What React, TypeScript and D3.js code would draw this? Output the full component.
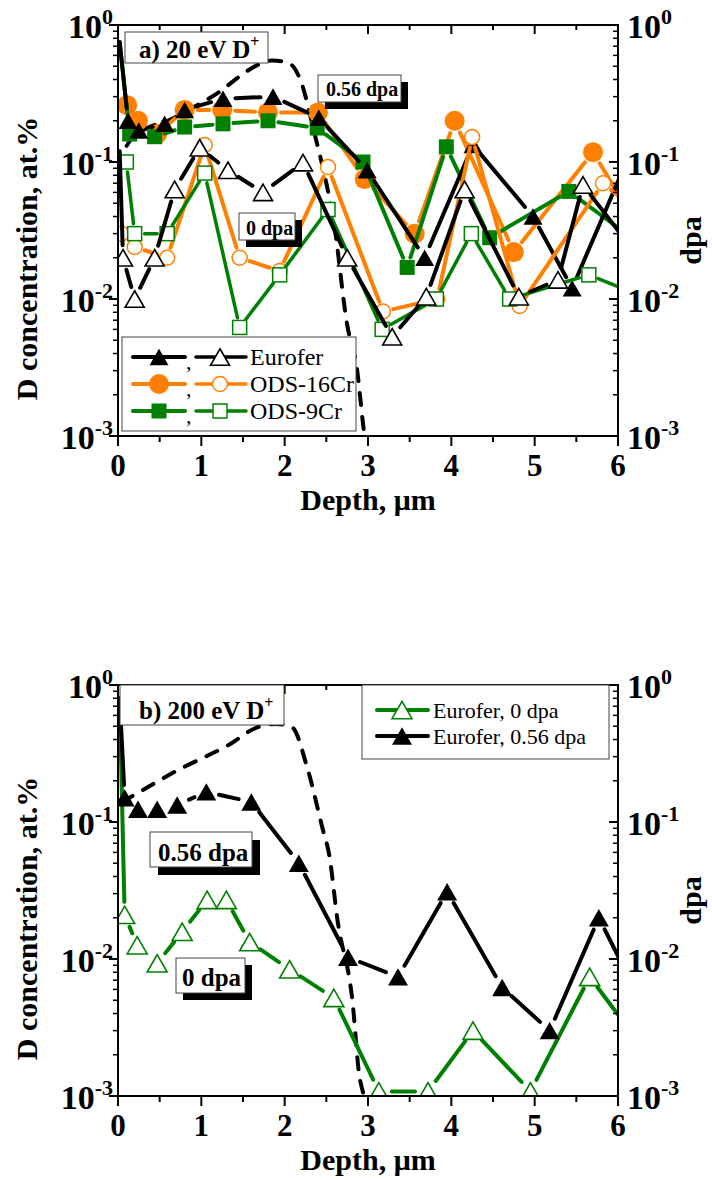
import React from "react";
import * as d3 from "d3";

const FONT = '"Liberation Serif", "Times New Roman", Times, serif';
const ORANGE = "#ff8000";
const GREEN = "#008000";
const BLACK = "#000000";

// ---------- axes ----------
const depthDomain = [0, 6];
const depthTickValues = [0, 1, 2, 3, 4, 5, 6];
const depthMinorValues = [0.5, 1.5, 2.5, 3.5, 4.5, 5.5];
const concDomain = [1e-3, 1];
const decadeValues = [1, 0.1, 0.01, 0.001];
const decadeExponents = ["0", "-1", "-2", "-3"];

// ---------- panel a) 20 eV D+ ----------
const aEur056X = [0.02, 0.12, 0.25, 0.56, 0.8, 1.26, 1.86, 2.41, 2.99, 3.68, 4.26, 4.98, 5.45, 6.1];
const aEur056Y = [0.75, 0.2, 0.17, 0.19, 0.24, 0.29, 0.3, 0.21, 0.087, 0.02, 0.133, 0.04, 0.012, 0.1];
const aOds16_056X = [0.11, 0.24, 0.47, 0.8, 1.25, 1.8, 2.4, 2.96, 3.56, 4.04, 4.75, 5.7, 6.2];
const aOds16_056Y = [0.26, 0.2, 0.16, 0.24, 0.24, 0.23, 0.23, 0.075, 0.03, 0.2, 0.022, 0.118, 0.037];
const aOds9_056X = [0.02, 0.14, 0.44, 0.8, 1.26, 1.8, 2.39, 2.94, 3.47, 3.94, 4.46, 5.41, 6.2];
const aOds9_056Y = [0.75, 0.16, 0.153, 0.18, 0.19, 0.2, 0.177, 0.1, 0.017, 0.129, 0.028, 0.061, 0.027];
const aEur0X = [0.02, 0.06, 0.2, 0.44, 0.68, 0.98, 1.32, 1.74, 2.22, 2.75, 3.29, 3.7, 4.16, 4.81, 5.28, 5.58, 6.2];
const aEur0Y = [0.12, 0.02, 0.01, 0.02, 0.063, 0.127, 0.087, 0.06, 0.099, 0.02, 0.0053, 0.0104, 0.063, 0.0104, 0.0138, 0.068, 0.022];
const aOds16_0X = [0.04, 0.2, 0.59, 1.04, 1.46, 1.94, 2.52, 3.18, 3.83, 4.25, 4.82, 5.82, 6.2];
const aOds16_0Y = [0.03, 0.024, 0.02, 0.133, 0.02, 0.016, 0.092, 0.0081, 0.01, 0.152, 0.0089, 0.07, 0.045];
const aOds9_0X = [0.1, 0.2, 0.59, 1.04, 1.46, 1.94, 2.52, 3.17, 3.82, 4.24, 4.7, 5.65, 6.2];
const aOds9_0Y = [0.1, 0.03, 0.03, 0.083, 0.0062, 0.015, 0.045, 0.006, 0.01, 0.03, 0.01, 0.015, 0.011];
const aDpaX = [0, 0.1, 0.3, 0.6, 0.9, 1.2, 1.5, 1.67, 1.85, 2.0, 2.1, 2.2, 2.36, 2.5, 2.58, 2.75, 2.87, 2.95, 3.0];
const aDpaY = [0.09, 0.13, 0.17, 0.2, 0.25, 0.32, 0.44, 0.51, 0.55, 0.54, 0.5, 0.38, 0.16, 0.07, 0.04, 0.0065, 0.003, 0.0011, 0.0007];

// ---------- panel b) 200 eV D+ ----------
const bEur056X = [0.02, 0.08, 0.24, 0.47, 0.71, 1.06, 1.6, 2.17, 2.76, 3.36, 3.95, 4.61, 5.18, 5.77, 6.2];
const bEur056Y = [0.8, 0.15, 0.124, 0.124, 0.133, 0.166, 0.14, 0.05, 0.0103, 0.0074, 0.031, 0.0062, 0.003, 0.02, 0.006];
const bEur0X = [0.02, 0.08, 0.23, 0.47, 0.77, 1.07, 1.3, 1.58, 2.06, 2.59, 3.13, 3.72, 4.26, 4.95, 5.66, 6.2];
const bEur0Y = [0.8, 0.021, 0.0126, 0.0093, 0.0158, 0.027, 0.027, 0.0133, 0.0084, 0.0052, 0.00108, 0.00108, 0.003, 0.00108, 0.0074, 0.0027];
const bDpaX = [0.05, 0.36, 0.78, 1.0, 1.31, 1.67, 1.9, 2.09, 2.27, 2.45, 2.54, 2.63, 2.82, 2.89, 2.95, 3.0];
const bDpaY = [0.14, 0.18, 0.25, 0.29, 0.36, 0.49, 0.52, 0.49, 0.25, 0.092, 0.055, 0.02, 0.0045, 0.0015, 0.001, 0.0007];

const aLegendNames = ["Eurofer", "ODS-16Cr", "ODS-9Cr"];
const bLegendNames = ["Eurofer, 0 dpa", "Eurofer, 0.56 dpa"];

type Shape = "tri" | "circle" | "square";
type Series = {
  x: number[];
  y: number[];
  color: string;
  shape: Shape;
  filled: boolean;
  size: number;
  lw: number;
  sw: number;
  noMarkerFirst?: boolean;
};

const X0 = 118;
const X1 = 618;

function Marker(props: { cx: number; cy: number; s: Series }) {
  const { cx, cy, s } = props;
  const fill = s.filled ? s.color : "#ffffff";
  const sw = s.filled ? 0 : s.sw;
  if (s.shape === "tri") {
    const w = s.size;
    const h = w * 0.87;
    return (
      <polygon
        points={`${cx},${cy - h / 2} ${cx + w / 2},${cy + h / 2} ${cx - w / 2},${cy + h / 2}`}
        fill={fill}
        stroke={s.color}
        strokeWidth={sw}
        strokeLinejoin="miter"
      />
    );
  }
  if (s.shape === "circle") {
    return <circle cx={cx} cy={cy} r={s.size / 2} fill={fill} stroke={s.color} strokeWidth={sw} />;
  }
  return (
    <rect x={cx - s.size / 2} y={cy - s.size / 2} width={s.size} height={s.size} fill={fill} stroke={s.color} strokeWidth={sw} />
  );
}

function gapPath(pts: [number, number][], has: boolean[], gaps: number): string {
  let d = "";
  for (let i = 0; i < pts.length - 1; i++) {
    const [x0, y0] = pts[i];
    const [x1, y1] = pts[i + 1];
    const dx = x1 - x0;
    const dy = y1 - y0;
    const L = Math.hypot(dx, dy);
    const g0 = has[i] ? gaps : 0;
    const g1 = has[i + 1] ? gaps : 0;
    if (L <= g0 + g1 + 1) continue;
    const ux = dx / L;
    const uy = dy / L;
    d += `M${x0 + ux * g0},${y0 + uy * g0}L${x1 - ux * g1},${y1 - uy * g1}`;
  }
  return d;
}

function SeriesView(props: { s: Series; x: any; y: any }) {
  const { s, x, y } = props;
  const pts: [number, number][] = s.x.map((d, i) => [x(d), y(s.y[i])]);
  const has = pts.map((_, i) => !(s.noMarkerFirst && i === 0));
  return (
    <g>
      <path d={gapPath(pts, has, s.size / 2 + 3)} fill="none" stroke={s.color} strokeWidth={s.lw} strokeLinecap="round" />
      {pts.map((p, i) => (has[i] ? <Marker key={i} cx={p[0]} cy={p[1]} s={s} /> : null))}
    </g>
  );
}

function TickLabel(props: { x: number; y: number; exp: string; anchor: "start" | "end" }) {
  return (
    <text x={props.x} y={props.y} textAnchor={props.anchor} fontFamily={FONT} fontWeight="bold" fontSize={34}>
      10
      <tspan dy={-14} fontSize={22}>
        {props.exp}
      </tspan>
    </text>
  );
}

function ShadowBox(props: { x: number; y: number; w: number; h: number; text: string; size: number; tx: number; ty: number; shadow: number }) {
  const { x, y, w, h, text, size, tx, ty, shadow } = props;
  return (
    <g>
      {shadow > 0 && <rect x={x + shadow} y={y + shadow} width={w} height={h} fill="#000" />}
      <rect x={x} y={y} width={w} height={h} fill="#fff" stroke="#444" strokeWidth={1} />
      <text x={tx} y={ty} fontFamily={FONT} fontWeight="bold" fontSize={size}>
        {text}
      </text>
    </g>
  );
}

function Panel(props: {
  id: string;
  top: number;
  bottom: number;
  series: Series[];
  dpaX: number[];
  dpaY: number[];
  children?: React.ReactNode;
}) {
  const { id, top, bottom, series, dpaX, dpaY } = props;
  const x = d3.scaleLinear().domain(depthDomain).range([X0, X1]);
  const y = d3.scaleLog().domain(concDomain).range([bottom, top]);
  const minor: number[] = [];
  for (const dec of [0.001, 0.01, 0.1]) for (let k = 2; k <= 9; k++) minor.push(k * dec);
  const dpaLine = d3
    .line<number>()
    .x((d) => x(d))
    .y((_, i) => y(dpaY[i]))
    .curve(d3.curveMonotoneX);
  const midY = (top + bottom) / 2;
  return (
    <g>
      <defs>
        <clipPath id={`clip-${id}`}>
          <rect x={X0} y={top} width={X1 - X0} height={bottom - top} />
        </clipPath>
      </defs>
      <g clipPath={`url(#clip-${id})`}>
        <path d={dpaLine(dpaX) || ""} fill="none" stroke="#000" strokeWidth={4} strokeDasharray="12,12" strokeLinecap="round" />
        {series.map((s, i) => (
          <SeriesView key={i} s={s} x={x} y={y} />
        ))}
      </g>
      {/* frame */}
      <rect x={X0} y={top} width={X1 - X0} height={bottom - top} fill="none" stroke="#000" strokeWidth={2} />
      {/* x ticks */}
      {depthTickValues.map((t) => (
        <g key={`xt${t}`}>
          <line x1={x(t)} x2={x(t)} y1={bottom} y2={bottom + 10} stroke="#000" strokeWidth={2} />
          <line x1={x(t)} x2={x(t)} y1={top} y2={top + 9} stroke="#000" strokeWidth={2} />
          <text x={x(t)} y={bottom + 40} textAnchor="middle" fontFamily={FONT} fontWeight="bold" fontSize={31}>
            {t}
          </text>
        </g>
      ))}
      {depthMinorValues.map((t) => (
        <g key={`xm${t}`}>
          <line x1={x(t)} x2={x(t)} y1={bottom} y2={bottom + 6} stroke="#000" strokeWidth={2} />
          <line x1={x(t)} x2={x(t)} y1={top} y2={top + 5} stroke="#000" strokeWidth={2} />
        </g>
      ))}
      {/* y ticks */}
      {decadeValues.map((v, i) => (
        <g key={`yt${v}`}>
          <line x1={X0 - 9} x2={X0} y1={y(v)} y2={y(v)} stroke="#000" strokeWidth={2} />
          <line x1={X1 - 9} x2={X1} y1={y(v)} y2={y(v)} stroke="#000" strokeWidth={2} />
          <TickLabel x={113} y={y(v) + 13} exp={decadeExponents[i]} anchor="end" />
          <TickLabel x={627} y={y(v) + 13} exp={decadeExponents[i]} anchor="start" />
        </g>
      ))}
      {minor.map((v) => (
        <g key={`ym${v}`}>
          <line x1={X0 - 5} x2={X0} y1={y(v)} y2={y(v)} stroke="#000" strokeWidth={1.5} />
          <line x1={X1 - 5} x2={X1} y1={y(v)} y2={y(v)} stroke="#000" strokeWidth={1.5} />
        </g>
      ))}
      {/* titles */}
      <text x={(X0 + X1) / 2} y={bottom + 74} textAnchor="middle" fontFamily={FONT} fontWeight="bold" fontSize={30}>
        Depth, μm
      </text>
      <text
        transform={`translate(37,${midY + 28}) rotate(-90)`}
        textAnchor="middle"
        fontFamily={FONT}
        fontWeight="bold"
        fontSize={30}
      >
        D concentration, at.%
      </text>
      <text transform={`translate(701,${midY + 10}) rotate(-90)`} textAnchor="middle" fontFamily={FONT} fontWeight="bold" fontSize={30}>
        dpa
      </text>
      {props.children}
    </g>
  );
}

export default function App() {
  const aSeries: Series[] = [
    { x: aOds16_056X, y: aOds16_056Y, color: ORANGE, shape: "circle", filled: true, size: 20, lw: 4, sw: 0 },
    { x: aOds9_056X, y: aOds9_056Y, color: GREEN, shape: "square", filled: true, size: 15, lw: 4, sw: 0, noMarkerFirst: true },
    { x: aEur056X, y: aEur056Y, color: BLACK, shape: "tri", filled: true, size: 19, lw: 4, sw: 0, noMarkerFirst: true },
    { x: aOds16_0X, y: aOds16_0Y, color: ORANGE, shape: "circle", filled: false, size: 15, lw: 4, sw: 1.5 },
    { x: aOds9_0X, y: aOds9_0Y, color: GREEN, shape: "square", filled: false, size: 14, lw: 3.5, sw: 1.5 },
    { x: aEur0X, y: aEur0Y, color: BLACK, shape: "tri", filled: false, size: 19, lw: 4, sw: 1.6, noMarkerFirst: true },
  ];
  const bSeries: Series[] = [
    { x: bEur0X, y: bEur0Y, color: GREEN, shape: "tri", filled: false, size: 20, lw: 4, sw: 1.6, noMarkerFirst: true },
    { x: bEur056X, y: bEur056Y, color: BLACK, shape: "tri", filled: true, size: 20, lw: 4, sw: 0, noMarkerFirst: true },
  ];
  const legA = [
    { filled: aSeries[2], open: aSeries[5] },
    { filled: aSeries[0], open: aSeries[3] },
    { filled: aSeries[1], open: aSeries[4] },
  ];
  return (
    <svg width={712} height={1180} style={{ position: "absolute", left: 0, top: 0, background: "#fff" }}>
      <rect width={712} height={1180} fill="#fff" />
      <Panel id="a" top={25} bottom={436} series={aSeries} dpaX={aDpaX} dpaY={aDpaY}>
        <rect x={125} y={32} width={143} height={31} fill="#fff" stroke="#444" strokeWidth={1} />
        <text x={139} y={58} fontFamily={FONT} fontWeight="bold" fontSize={25}>
          a) 20 eV D
          <tspan dy={-11} fontSize={16}>
            +
          </tspan>
        </text>
        <ShadowBox x={318} y={75} w={83} h={27} text="0.56 dpa" size={20} tx={326} ty={96} shadow={7} />
        <ShadowBox x={239} y={213} w={56} h={27} text="0 dpa" size={20} tx={246} ty={235} shadow={7} />
        {/* legend */}
        <rect x={122} y={337} width={234} height={94} fill="#fff" stroke="#444" strokeWidth={1} />
        {legA.map((r, i) => {
          const cy = 357 + i * 27;
          return (
            <g key={i}>
              <line x1={133} x2={185} y1={cy} y2={cy} stroke={r.filled.color} strokeWidth={4} strokeLinecap="round" />
              <Marker cx={159} cy={cy} s={r.filled} />
              <text x={186} y={cy + 12} fontFamily={FONT} fontSize={22}>
                ,
              </text>
              <line x1={196} x2={246} y1={cy} y2={cy} stroke={r.open.color} strokeWidth={3.5} strokeLinecap="round" />
              <Marker cx={220} cy={cy} s={r.open} />
              <text x={250} y={cy + 8} fontFamily={FONT} fontSize={24}>
                {aLegendNames[i]}
              </text>
            </g>
          );
        })}
      </Panel>
      <Panel id="b" top={685} bottom={1096} series={bSeries} dpaX={bDpaX} dpaY={bDpaY}>
        <rect x={120} y={685} width={164} height={40} fill="#fff" stroke="#444" strokeWidth={1} />
        <text x={139} y={719} fontFamily={FONT} fontWeight="bold" fontSize={25}>
          b) 200 eV D
          <tspan dy={-11} fontSize={16}>
            +
          </tspan>
        </text>
        <ShadowBox x={150} y={832} w={102} h={35} text="0.56 dpa" size={25} tx={158} ty={861} shadow={8} />
        <ShadowBox x={176} y={958} w={69} h={35} text="0 dpa" size={25} tx={182} ty={986} shadow={7} />
        <rect x={362} y={685} width={247} height={74} fill="#fff" stroke="#444" strokeWidth={1} />
        {bSeries.map((s, i) => {
          const cy = 710 + i * 26;
          return (
            <g key={i}>
              <line x1={377} x2={428} y1={cy} y2={cy} stroke={s.color} strokeWidth={4} strokeLinecap="round" />
              <Marker cx={402} cy={cy} s={s} />
              <text x={433} y={cy + 8} fontFamily={FONT} fontSize={22}>
                {bLegendNames[i]}
              </text>
            </g>
          );
        })}
      </Panel>
    </svg>
  );
}
